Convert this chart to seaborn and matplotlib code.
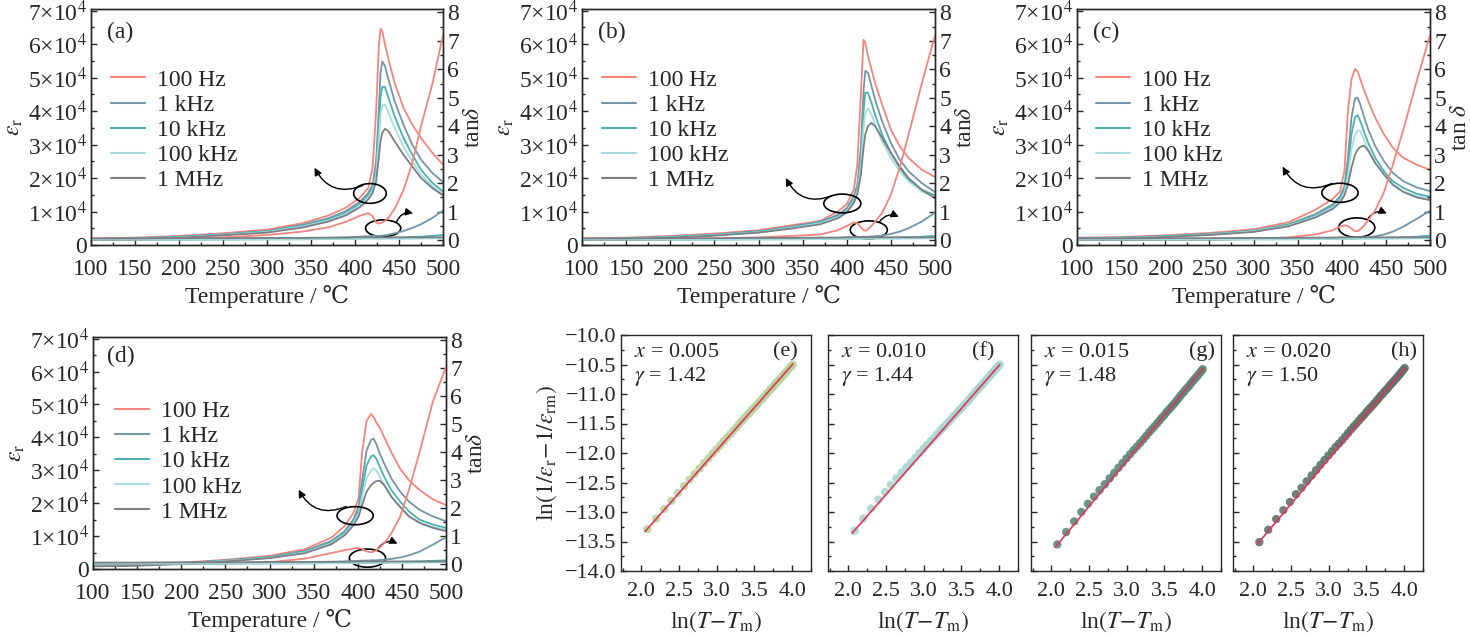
import numpy as np
import pandas as pd
import matplotlib
matplotlib.use("Agg")
import matplotlib.pyplot as plt
import seaborn as sns
from matplotlib.patches import Ellipse
from matplotlib.ticker import MultipleLocator, FuncFormatter

# ---------------------------
# DATA  (eps_r in units of 1e4)
# ---------------------------
freqs = ["100 Hz", "1 kHz", "10 kHz", "100 kHz", "1 MHz"]

a_T = [100, 150, 200, 250, 300, 340, 370, 390, 405, 415, 420, 424, 427, 429, 431, 434, 438, 445, 455, 465, 475, 488, 500]
a_eps_100Hz = [0.20, 0.22, 0.27, 0.35, 0.46, 0.65, 0.88, 1.12, 1.40, 1.70, 2.30, 4.00, 5.90, 6.46, 6.38, 6.00, 5.55, 4.85, 4.10, 3.60, 3.20, 2.75, 2.40]
a_eps_1kHz = [0.18, 0.20, 0.25, 0.32, 0.42, 0.60, 0.80, 1.02, 1.28, 1.55, 1.80, 2.50, 4.00, 5.15, 5.48, 5.35, 4.95, 4.30, 3.60, 3.00, 2.55, 2.15, 1.88]
a_eps_10kHz = [0.17, 0.19, 0.24, 0.31, 0.40, 0.57, 0.76, 0.97, 1.22, 1.48, 1.70, 2.30, 3.50, 4.45, 4.72, 4.72, 4.40, 3.85, 3.20, 2.70, 2.25, 1.85, 1.60]
a_eps_100kHz = [0.16, 0.18, 0.23, 0.30, 0.39, 0.55, 0.73, 0.93, 1.17, 1.42, 1.62, 2.10, 3.10, 3.90, 4.15, 4.20, 3.95, 3.50, 2.95, 2.50, 2.10, 1.75, 1.52]
a_eps_1MHz = [0.15, 0.17, 0.22, 0.29, 0.37, 0.52, 0.70, 0.89, 1.12, 1.36, 1.55, 1.90, 2.60, 3.10, 3.35, 3.47, 3.40, 3.10, 2.70, 2.35, 2.00, 1.70, 1.48]
a_tan_100Hz = [0.00, 0.02, 0.05, 0.10, 0.18, 0.30, 0.45, 0.65, 0.85, 0.95, 0.85, 0.62, 0.58, 0.60, 0.62, 0.68, 0.78, 1.10, 1.75, 2.70, 4.00, 5.50, 7.20]
a_tan_1kHz = [0.03, 0.03, 0.03, 0.04, 0.05, 0.06, 0.08, 0.10, 0.12, 0.14, 0.15, 0.15, 0.15, 0.15, 0.16, 0.17, 0.19, 0.24, 0.32, 0.43, 0.56, 0.78, 1.04]
a_tan_10kHz = [0.02, 0.02, 0.02, 0.02, 0.03, 0.03, 0.04, 0.05, 0.06, 0.07, 0.07, 0.07, 0.07, 0.07, 0.07, 0.07, 0.08, 0.08, 0.09, 0.11, 0.12, 0.15, 0.18]

b_T = [100, 150, 200, 250, 300, 340, 370, 390, 400, 408, 412, 416, 419, 421, 424, 428, 432, 440, 450, 460, 470, 485, 500]
b_eps_100Hz = [0.20, 0.22, 0.27, 0.34, 0.44, 0.60, 0.72, 1.00, 1.22, 1.65, 2.40, 4.50, 6.13, 6.05, 5.65, 5.25, 4.85, 4.20, 3.45, 2.95, 2.60, 2.25, 2.03]
b_eps_1kHz = [0.18, 0.20, 0.25, 0.31, 0.41, 0.56, 0.70, 0.90, 1.10, 1.45, 1.80, 2.90, 4.60, 5.20, 5.15, 4.75, 4.35, 3.70, 3.05, 2.55, 2.20, 1.85, 1.58]
b_eps_10kHz = [0.17, 0.19, 0.24, 0.30, 0.40, 0.54, 0.67, 0.86, 1.05, 1.38, 1.70, 2.60, 4.00, 4.55, 4.55, 4.25, 3.90, 3.30, 2.75, 2.30, 1.95, 1.65, 1.48]
b_eps_100kHz = [0.16, 0.18, 0.23, 0.29, 0.38, 0.52, 0.65, 0.83, 1.01, 1.32, 1.62, 2.35, 3.50, 3.95, 4.08, 3.90, 3.60, 3.10, 2.60, 2.20, 1.90, 1.60, 1.42]
b_eps_1MHz = [0.15, 0.17, 0.22, 0.28, 0.37, 0.50, 0.62, 0.80, 0.97, 1.26, 1.52, 2.10, 2.90, 3.30, 3.55, 3.65, 3.55, 3.20, 2.75, 2.35, 2.00, 1.65, 1.40]
b_tan_100Hz = [0.00, 0.01, 0.03, 0.06, 0.10, 0.15, 0.20, 0.35, 0.50, 0.62, 0.60, 0.45, 0.35, 0.33, 0.38, 0.50, 0.65, 0.95, 1.60, 2.55, 3.70, 5.50, 7.20]
b_tan_1kHz = [0.03, 0.03, 0.03, 0.04, 0.05, 0.06, 0.07, 0.08, 0.09, 0.10, 0.11, 0.11, 0.12, 0.12, 0.12, 0.13, 0.14, 0.16, 0.22, 0.30, 0.42, 0.65, 0.97]
b_tan_10kHz = [0.02, 0.02, 0.02, 0.02, 0.03, 0.03, 0.04, 0.04, 0.05, 0.05, 0.06, 0.06, 0.06, 0.06, 0.06, 0.06, 0.07, 0.07, 0.08, 0.09, 0.10, 0.12, 0.15]

c_T = [100, 150, 200, 250, 300, 340, 370, 390, 398, 403, 407, 411, 415, 418, 421, 425, 430, 438, 448, 458, 470, 485, 500]
c_eps_100Hz = [0.22, 0.24, 0.29, 0.36, 0.47, 0.68, 1.05, 1.38, 1.60, 2.20, 4.00, 4.95, 5.26, 5.18, 4.95, 4.65, 4.30, 3.80, 3.30, 2.90, 2.60, 2.40, 2.24]
c_eps_1kHz = [0.20, 0.22, 0.27, 0.33, 0.43, 0.62, 0.92, 1.22, 1.45, 1.75, 2.60, 3.80, 4.38, 4.40, 4.20, 3.85, 3.45, 2.95, 2.50, 2.15, 1.90, 1.72, 1.61]
c_eps_10kHz = [0.19, 0.21, 0.26, 0.32, 0.42, 0.60, 0.88, 1.17, 1.38, 1.65, 2.30, 3.30, 3.82, 3.88, 3.70, 3.40, 3.05, 2.60, 2.20, 1.90, 1.70, 1.53, 1.44]
c_eps_100kHz = [0.18, 0.20, 0.25, 0.31, 0.41, 0.58, 0.85, 1.13, 1.33, 1.57, 2.05, 2.85, 3.30, 3.43, 3.40, 3.15, 2.85, 2.45, 2.10, 1.80, 1.60, 1.46, 1.39]
c_eps_1MHz = [0.17, 0.19, 0.24, 0.30, 0.39, 0.56, 0.82, 1.08, 1.27, 1.48, 1.80, 2.30, 2.70, 2.85, 2.93, 2.97, 2.82, 2.45, 2.10, 1.80, 1.58, 1.42, 1.34]
c_tan_100Hz = [0.00, 0.00, 0.01, 0.02, 0.04, 0.10, 0.20, 0.35, 0.48, 0.52, 0.50, 0.40, 0.32, 0.32, 0.38, 0.50, 0.70, 1.05, 1.70, 2.65, 3.90, 5.60, 7.20]
c_tan_1kHz = [0.02, 0.02, 0.03, 0.03, 0.04, 0.05, 0.06, 0.07, 0.07, 0.08, 0.08, 0.08, 0.08, 0.08, 0.09, 0.09, 0.10, 0.13, 0.20, 0.30, 0.48, 0.75, 1.03]
c_tan_10kHz = [0.02, 0.02, 0.02, 0.02, 0.03, 0.03, 0.04, 0.04, 0.05, 0.05, 0.05, 0.05, 0.05, 0.06, 0.06, 0.06, 0.06, 0.07, 0.08, 0.09, 0.10, 0.12, 0.16]

d_T = [100, 150, 200, 250, 300, 340, 370, 385, 395, 401, 405, 410, 415, 418, 421, 425, 430, 438, 448, 458, 470, 485, 500]
d_eps_100Hz = [0.10, 0.13, 0.19, 0.28, 0.40, 0.60, 0.95, 1.30, 1.70, 2.16, 3.56, 4.50, 4.71, 4.62, 4.45, 4.30, 4.00, 3.55, 3.05, 2.70, 2.40, 2.12, 1.94]
d_eps_1kHz = [0.10, 0.12, 0.18, 0.26, 0.37, 0.55, 0.85, 1.15, 1.50, 1.90, 2.70, 3.60, 3.92, 3.96, 3.80, 3.50, 3.20, 2.75, 2.35, 2.05, 1.80, 1.60, 1.45]
d_eps_10kHz = [0.09, 0.11, 0.17, 0.25, 0.35, 0.52, 0.81, 1.10, 1.43, 1.78, 2.40, 3.15, 3.42, 3.46, 3.35, 3.10, 2.80, 2.40, 2.05, 1.75, 1.50, 1.35, 1.25]
d_eps_100kHz = [0.09, 0.11, 0.16, 0.24, 0.34, 0.50, 0.78, 1.06, 1.38, 1.70, 2.20, 2.75, 3.00, 3.06, 3.00, 2.80, 2.55, 2.20, 1.90, 1.60, 1.42, 1.28, 1.20]
d_eps_1MHz = [0.08, 0.10, 0.15, 0.23, 0.33, 0.48, 0.75, 1.02, 1.32, 1.60, 1.95, 2.35, 2.55, 2.62, 2.67, 2.68, 2.55, 2.20, 1.88, 1.60, 1.40, 1.25, 1.15]
d_tan_100Hz = [0.00, 0.00, 0.01, 0.03, 0.07, 0.20, 0.40, 0.50, 0.56, 0.58, 0.55, 0.46, 0.43, 0.45, 0.50, 0.60, 0.75, 1.10, 1.70, 2.65, 4.00, 5.80, 7.05]
d_tan_1kHz = [0.03, 0.03, 0.03, 0.04, 0.05, 0.06, 0.08, 0.10, 0.11, 0.12, 0.13, 0.13, 0.14, 0.14, 0.14, 0.15, 0.16, 0.19, 0.24, 0.32, 0.45, 0.70, 0.96]
d_tan_10kHz = [0.02, 0.02, 0.02, 0.02, 0.03, 0.03, 0.04, 0.04, 0.05, 0.05, 0.05, 0.06, 0.06, 0.06, 0.06, 0.06, 0.07, 0.07, 0.08, 0.09, 0.10, 0.12, 0.14]

# the two highest frequencies stay flat near zero in every panel
tan_100kHz = [0.03, 0.03, 0.03, 0.03, 0.03, 0.04, 0.04, 0.04, 0.05, 0.05, 0.05, 0.05, 0.05, 0.05, 0.05, 0.05, 0.05, 0.05, 0.05, 0.05, 0.06, 0.06, 0.07]
tan_1MHz = [0.06, 0.06, 0.07, 0.07, 0.08, 0.08, 0.09, 0.09, 0.10, 0.10, 0.10, 0.10, 0.10, 0.10, 0.10, 0.10, 0.10, 0.10, 0.10, 0.10, 0.10, 0.10, 0.10]

# modified Curie-Weiss fits
ln_dT = [2.079, 2.197, 2.303, 2.398, 2.485, 2.565, 2.639, 2.708, 2.773, 2.833, 2.890, 2.944,
         2.996, 3.045, 3.091, 3.135, 3.178, 3.219, 3.258, 3.296, 3.332, 3.367, 3.401, 3.434,
         3.466, 3.497, 3.526, 3.555, 3.584, 3.611, 3.638, 3.664, 3.689, 3.714, 3.738, 3.761,
         3.784, 3.807, 3.829, 3.850, 3.871, 3.892, 3.912, 3.932, 3.951, 3.970, 3.989, 4.007]
e_y = [-13.29, -13.11, -12.95, -12.81, -12.68, -12.56, -12.45, -12.35, -12.26, -12.17, -12.09, -12.01,
       -11.94, -11.87, -11.80, -11.74, -11.68, -11.62, -11.57, -11.51, -11.46, -11.41, -11.36, -11.32,
       -11.27, -11.23, -11.19, -11.15, -11.11, -11.07, -11.03, -10.99, -10.96, -10.92, -10.89, -10.86,
       -10.82, -10.79, -10.76, -10.73, -10.70, -10.67, -10.64, -10.61, -10.58, -10.55, -10.53, -10.50]
f_y = [-13.32, -13.11, -12.94, -12.79, -12.66, -12.54, -12.43, -12.33, -12.24, -12.16, -12.08, -12.00,
       -11.93, -11.86, -11.80, -11.74, -11.68, -11.62, -11.57, -11.52, -11.47, -11.42, -11.37, -11.33,
       -11.28, -11.24, -11.20, -11.16, -11.12, -11.08, -11.04, -11.00, -10.96, -10.93, -10.89, -10.86,
       -10.83, -10.79, -10.76, -10.73, -10.70, -10.67, -10.64, -10.61, -10.58, -10.55, -10.53, -10.50]
g_y = [-13.55, -13.34, -13.16, -13.00, -12.86, -12.74, -12.63, -12.53, -12.43, -12.34, -12.25, -12.17,
       -12.09, -12.02, -11.95, -11.89, -11.83, -11.77, -11.71, -11.65, -11.60, -11.55, -11.50, -11.45,
       -11.40, -11.36, -11.31, -11.27, -11.23, -11.19, -11.15, -11.11, -11.07, -11.03, -10.99, -10.96,
       -10.92, -10.89, -10.86, -10.82, -10.79, -10.76, -10.73, -10.70, -10.67, -10.64, -10.61, -10.58]
h_y = [-13.51, -13.30, -13.12, -12.97, -12.83, -12.70, -12.59, -12.48, -12.38, -12.29, -12.20, -12.12,
       -12.04, -11.97, -11.90, -11.84, -11.78, -11.72, -11.66, -11.60, -11.55, -11.50, -11.45, -11.40,
       -11.36, -11.31, -11.27, -11.23, -11.19, -11.15, -11.11, -11.07, -11.03, -11.00, -10.96, -10.93,
       -10.90, -10.86, -10.83, -10.80, -10.77, -10.74, -10.71, -10.68, -10.65, -10.62, -10.59, -10.56]
fit_x = [2.05, 4.01]
e_fit = [-13.33, -10.49]
f_fit = [-13.36, -10.50]
g_fit = [-13.60, -10.57]
h_fit = [-13.55, -10.56]
x_text = ["0.005", "0.010", "0.015", "0.020"]
gamma_text = ["1.42", "1.44", "1.48", "1.50"]

# ---------------------------
# STYLE
# ---------------------------
sns.set_style("ticks")
plt.rcParams["font.family"] = ["Liberation Serif", "DejaVu Serif", "Noto Sans CJK SC"]
plt.rcParams["mathtext.fontset"] = "stix"
plt.rcParams["axes.linewidth"] = 1.0
plt.rcParams["axes.unicode_minus"] = True

palette = dict(zip(freqs, ["#f4847e", "#7395a7", "#4cb1ae", "#a8dde0", "#7a7f85"]))
red_fit = "#e2355a"

W, H = 1470, 637
fig = plt.figure(figsize=(W / 100, H / 100), dpi=100)


def px_rect(left, top, right, bottom):
    return [left / W, 1 - bottom / H, (right - left) / W, (bottom - top) / H]


eps_ticklabels = ["0"] + [f"{i}×10$^4$" for i in range(1, 8)]
minus_fmt = FuncFormatter(lambda v, p: f"{v:.1f}".replace("-", "\u2212"))


def big_panel(rect, T, eps, tan, tag, tan_label, leg_xy, tag_xy, ell1, arr1, ell2, arr2):
    ax = fig.add_axes(rect)
    tw = ax.twinx()
    n = len(T)
    df_eps = pd.DataFrame({"T": np.tile(T, 5), "v": np.concatenate(eps), "f": np.repeat(freqs, n)})
    df_tan = pd.DataFrame({"T": np.tile(T, 5), "v": np.concatenate(tan), "f": np.repeat(freqs, n)})
    sns.lineplot(data=df_eps, x="T", y="v", hue="f", hue_order=freqs, palette=palette,
                 lw=1.3, errorbar=None, ax=ax)
    sns.lineplot(data=df_tan, x="T", y="v", hue="f", hue_order=freqs, palette=palette,
                 lw=1.3, errorbar=None, legend=False, ax=tw)

    ax.set_xlim(100, 500)
    ax.set_ylim(0, 7.05)
    tw.set_ylim(-0.17, 8.12)
    ax.set_xticks(range(100, 501, 50))
    ax.xaxis.set_minor_locator(MultipleLocator(25))
    ax.set_yticks(range(8))
    ax.set_yticklabels(eps_ticklabels)
    ax.yaxis.set_minor_locator(MultipleLocator(0.5))
    tw.set_yticks(range(9))
    tw.yaxis.set_minor_locator(MultipleLocator(0.5))
    for a in (ax, tw):
        a.tick_params(which="both", direction="in", width=1.0, labelsize=17, pad=3)
        a.tick_params(which="major", length=4)
        a.tick_params(which="minor", length=2.5)
    ax.tick_params(axis="x", pad=10)

    ax.set_xlabel("Temperature / ℃", fontsize=17, labelpad=4)
    ax.set_ylabel(r"$\varepsilon_\mathrm{r}$", fontsize=17, labelpad=2)
    tw.set_ylabel(tan_label, fontsize=17, labelpad=3)

    handles, labels = ax.get_legend_handles_labels()
    leg = ax.legend(handles, labels, loc="upper left", bbox_to_anchor=leg_xy, frameon=False,
                    fontsize=17, handlelength=1.45, handletextpad=0.5, labelspacing=0.15,
                    borderaxespad=0, borderpad=0)
    for h in leg.get_lines():
        h.set_linewidth(1.5)

    ax.text(tag_xy[0], tag_xy[1], tag, transform=ax.transAxes, fontsize=17, va="center")

    for (cx, cy, w, h), (tail, head, rad) in ((ell1, arr1), (ell2, arr2)):
        ax.add_patch(Ellipse((cx, cy), w, h, fill=False, ec="black", lw=1.2, zorder=5))
        ax.annotate("", xy=head, xytext=tail,
                    arrowprops=dict(arrowstyle="-|>", color="black", lw=1.0, mutation_scale=11,
                                    shrinkA=0, shrinkB=0, connectionstyle=f"arc3,rad={rad}"),
                    zorder=5)
    return ax


big_panel(px_rect(91, 9, 443, 245), a_T,
          [a_eps_100Hz, a_eps_1kHz, a_eps_10kHz, a_eps_100kHz, a_eps_1MHz],
          [a_tan_100Hz, a_tan_1kHz, a_tan_10kHz, tan_100kHz, tan_1MHz],
          "(a)", r"tan$\delta$", (0.057, 0.745), (0.045, 0.90),
          (417, 1.54, 37, 0.59), ((409, 1.78), (354, 2.31), -0.45),
          (432, 0.50, 40, 0.50), ((447, 0.68), (466, 0.95), -0.4))

big_panel(px_rect(582, 9, 935, 245), b_T,
          [b_eps_100Hz, b_eps_1kHz, b_eps_10kHz, b_eps_100kHz, b_eps_1MHz],
          [b_tan_100Hz, b_tan_1kHz, b_tan_10kHz, tan_100kHz, tan_1MHz],
          "(b)", r"tan$\delta$", (0.057, 0.745), (0.045, 0.90),
          (395, 1.24, 42, 0.56), ((384, 1.48), (331, 2.00), -0.45),
          (425, 0.45, 42, 0.54), ((437, 0.69), (459, 0.84), -0.4))

big_panel(px_rect(1077, 9, 1430, 245), c_T,
          [c_eps_100Hz, c_eps_1kHz, c_eps_10kHz, c_eps_100kHz, c_eps_1MHz],
          [c_tan_100Hz, c_tan_1kHz, c_tan_10kHz, tan_100kHz, tan_1MHz],
          "(c)", r"tan $\delta$", (0.054, 0.745), (0.045, 0.90),
          (398, 1.56, 41, 0.57), ((389, 1.84), (333, 2.34), -0.45),
          (417, 0.52, 41, 0.58), ((430, 0.80), (451, 0.94), -0.4))

big_panel(px_rect(93, 337, 446, 569), d_T,
          [d_eps_100Hz, d_eps_1kHz, d_eps_10kHz, d_eps_100kHz, d_eps_1MHz],
          [d_tan_100Hz, d_tan_1kHz, d_tan_10kHz, tan_100kHz, tan_1MHz],
          "(d)", r"tan$\delta$", (0.062, 0.725), (0.04, 0.915),
          (397, 1.62, 41, 0.55), ((387, 1.90), (333, 2.41), -0.45),
          (411, 0.33, 41, 0.55), ((423, 0.63), (445, 0.77), -0.4))

# ---------------------------
# small Curie-Weiss panels
# ---------------------------
small = [
    (621, e_y, e_fit, "#b7d59f", "(e)", 0.80),
    (828, f_y, f_fit, "#a8d6d2", "(f)", 0.76),
    (1031, g_y, g_fit, "#5a8878", "(g)", 0.83),
    (1233, h_y, h_fit, "#5e7369", "(h)", 0.83),
]
for i, (left, ys, fit, col, tag, tag_x) in enumerate(small):
    ax = fig.add_axes(px_rect(left, 335, left + 190, 571))
    sns.scatterplot(x=ln_dT, y=ys, color=col, s=36, edgecolor="none", alpha=0.9, ax=ax, zorder=2)
    sns.lineplot(x=fit_x, y=fit, color=red_fit, lw=1.2, ax=ax, zorder=3)
    ax.set_xlim(1.73, 4.25)
    ax.set_ylim(-14.0, -10.0)
    ax.xaxis.set_major_locator(MultipleLocator(0.5))
    ax.xaxis.set_minor_locator(MultipleLocator(0.25))
    ax.yaxis.set_major_locator(MultipleLocator(0.5))
    ax.yaxis.set_minor_locator(MultipleLocator(0.25))
    ax.xaxis.set_major_formatter(minus_fmt)
    ax.yaxis.set_major_formatter(minus_fmt)
    ax.tick_params(which="both", direction="in", width=1.0, labelsize=16)
    ax.tick_params(which="major", length=4)
    ax.tick_params(which="minor", length=2.5)
    ax.tick_params(axis="x", pad=8)
    ax.set_xlabel(r"ln$(T\!-\!T_\mathrm{m})$", fontsize=17, labelpad=6)
    if i == 0:
        ax.set_ylabel(r"ln$(1/\varepsilon_\mathrm{r}\!-\!1/\varepsilon_\mathrm{rm})$", fontsize=17, labelpad=4)
    else:
        ax.set_ylabel("")
        ax.tick_params(axis="y", labelleft=False)
    ax.text(0.07, 0.925, f"$x$ = {x_text[i]}", transform=ax.transAxes, fontsize=16, va="center")
    ax.text(0.07, 0.825, f"$\\gamma$ = {gamma_text[i]}", transform=ax.transAxes, fontsize=16, va="center")
    ax.text(tag_x, 0.93, tag, transform=ax.transAxes, fontsize=16, va="center")

fig.savefig("out.png", dpi=100)
